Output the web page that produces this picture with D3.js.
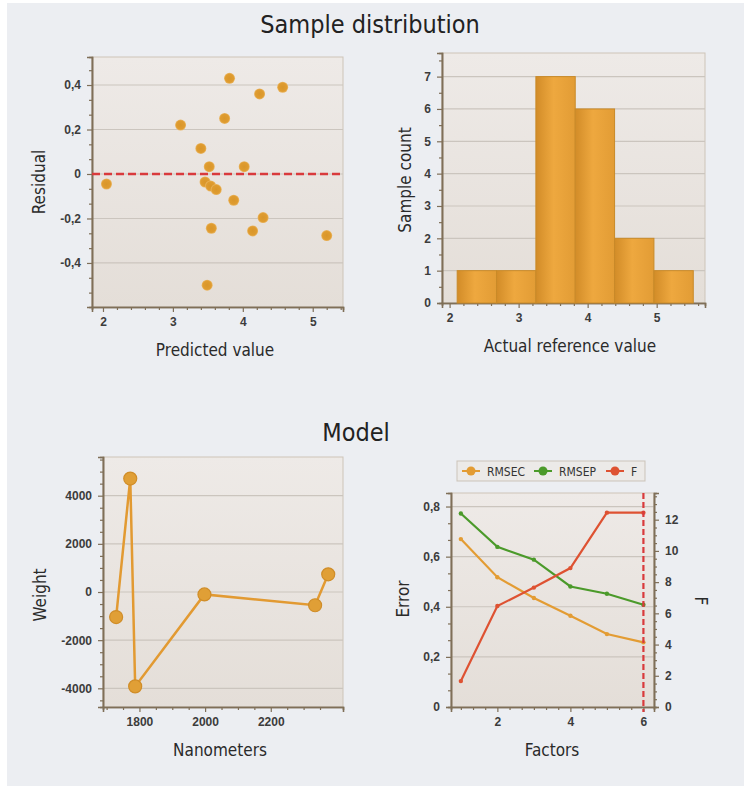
<!DOCTYPE html>
<html>
<head>
<meta charset="utf-8">
<script src="https://cdn.jsdelivr.net/npm/d3@7"></script>
<style>
  body { margin: 0; background: #fff; }
  svg { display: block; font-family: "DejaVu Sans Condensed", "DejaVu Sans", sans-serif; }
  .tick text { font-size: 12px; font-weight: bold; fill: #3c3c3c; }
  .axis-label { font-size: 17px; fill: #2a2a2a; }
  .title { font-size: 25px; fill: #222; }
</style>
</head>
<body>
<div id="chart"></div>
<script>

// Residual plot
let predicted = [2.05, 3.11, 3.40, 3.52, 3.46, 3.54, 3.62, 3.55, 3.49, 3.74, 3.81, 3.87, 4.02, 4.14, 4.24, 4.29, 4.57, 5.20];
let residual = [-0.045, 0.22, 0.115, 0.033, -0.036, -0.054, -0.07, -0.244, -0.50, 0.25, 0.43, -0.118, 0.033, -0.256, 0.36, -0.196, 0.39, -0.277];

// Histogram of reference values
let binEdges = [2.11, 2.68, 3.25, 3.82, 4.39, 4.96, 5.53];
let binCounts = [1, 1, 7, 6, 2, 1];

// Regression weights
let nanometers = [1729, 1772, 1787, 1998, 2335, 2375];
let weights = [-1040, 4710, -3920, -100, -550, 735];

// Error vs factors
let factors = [1, 2, 3, 4, 5, 6];
let rmsec = [0.67, 0.518, 0.435, 0.364, 0.291, 0.258];
let rmsep = [0.772, 0.639, 0.588, 0.481, 0.452, 0.408];
let fValues = [1.66, 6.47, 7.65, 8.9, 12.45, 12.45];
let selectedFactor = 6;
let legendNames = ["RMSEC", "RMSEP", "F"];

let orange = "#e39c33", green = "#4b9a2a", red = "#de5232";

let svg = d3.select("#chart").append("svg")
    .attr("width", 744)
    .attr("height", 786);

// scanned page background
svg.append("rect").attr("x", 7).attr("y", 3).attr("width", 737).attr("height", 783).attr("fill", "#eceef2");

let defs = svg.append("defs");

let bg = defs.append("linearGradient").attr("id", "plotBg").attr("x1", 0).attr("y1", 0).attr("x2", 0).attr("y2", 1);
bg.append("stop").attr("offset", "0%").attr("stop-color", "#eeeae7");
bg.append("stop").attr("offset", "100%").attr("stop-color", "#e4ded8");

let barGrad = defs.append("linearGradient").attr("id", "barGrad").attr("x1", 0).attr("y1", 0).attr("x2", 1).attr("y2", 0);
barGrad.append("stop").attr("offset", "0%").attr("stop-color", "#d28c28");
barGrad.append("stop").attr("offset", "45%").attr("stop-color", "#eea83f");
barGrad.append("stop").attr("offset", "100%").attr("stop-color", "#e29c35");

let dotGrad = defs.append("radialGradient").attr("id", "dotGrad");
dotGrad.append("stop").attr("offset", "0%").attr("stop-color", "#d9962a");
dotGrad.append("stop").attr("offset", "75%").attr("stop-color", "#df9c30");
dotGrad.append("stop").attr("offset", "100%").attr("stop-color", "#eab765");

function fmt(d) {
    return d === 0 ? "0" : String(d).replace(".", ",");
}

function minorValues(domain, step, sub) {
    let out = [];
    let s = step / sub;
    for (let i = Math.ceil(domain[0] / s); i * s <= domain[1] + 1e-9; i++) {
        let v = +(i * s).toFixed(6);
        if (Math.abs(v / step - Math.round(v / step)) > 1e-6) out.push(v);
    }
    return out;
}

// build a plot frame with grid + axes
function makePanel(box, xDomain, yDomain, xTicks, yTicks, xMinor, yMinor) {
    let p = {};
    p.g = svg.append("g").attr("transform", `translate(${box.left},${box.top})`);
    p.w = box.right - box.left;
    p.h = box.bottom - box.top;
    p.x = d3.scaleLinear().domain(xDomain).range([0, p.w]);
    p.y = d3.scaleLinear().domain(yDomain).range([p.h, 0]);

    p.g.append("rect").attr("width", p.w).attr("height", p.h)
        .attr("fill", "url(#plotBg)").attr("stroke", "#cdc4b8");

    p.g.append("g").selectAll("line").data(yTicks.filter(d => d !== yDomain[0])).join("line")
        .attr("x1", 0).attr("x2", p.w)
        .attr("y1", d => p.y(d)).attr("y2", d => p.y(d))
        .attr("stroke", "#cbc5be").attr("stroke-width", 1.2);

    p.g.append("g").attr("class", "axis")
        .attr("transform", `translate(0,${p.h})`)
        .call(d3.axisBottom(p.x).tickValues(xMinor).tickSize(3).tickFormat(""));
    p.g.append("g").attr("class", "axis")
        .attr("transform", `translate(0,${p.h})`)
        .call(d3.axisBottom(p.x).tickValues(xTicks).tickSize(5).tickPadding(5).tickFormat(fmt));

    p.g.append("g").attr("class", "axis")
        .call(d3.axisLeft(p.y).tickValues(yMinor).tickSize(3).tickFormat(""));
    p.g.append("g").attr("class", "axis")
        .call(d3.axisLeft(p.y).tickValues(yTicks).tickSize(5).tickPadding(6).tickFormat(fmt));

    return p;
}

function styleAxes() {
    svg.selectAll(".axis path").attr("stroke", "#7f6f58").attr("stroke-width", 1.6);
    svg.selectAll(".axis line").attr("stroke", "#7f6f58").attr("stroke-width", 1.2);
}

function label(text, x, y, rotate) {
    let t = svg.append("text").attr("class", "axis-label").attr("text-anchor", "middle").text(text);
    if (rotate) t.attr("transform", `translate(${x},${y}) rotate(${rotate})`);
    else t.attr("x", x).attr("y", y);
    return t;
}

// titles
svg.append("text").attr("class", "title").attr("x", 370).attr("y", 33).attr("text-anchor", "middle").text("Sample distribution");
svg.append("text").attr("class", "title").attr("x", 356).attr("y", 441).attr("text-anchor", "middle").text("Model");

// ---- Residual vs predicted
let p1 = makePanel({left: 92, right: 343, top: 57, bottom: 307},
    [1.843, 5.433], [-0.598, 0.526],
    [2, 3, 4, 5], [-0.4, -0.2, 0, 0.2, 0.4],
    minorValues([1.843, 5.433], 1, 5), minorValues([-0.598, 0.526], 0.2, 3));

p1.g.append("line")
    .attr("x1", 0).attr("x2", p1.w)
    .attr("y1", p1.y(0)).attr("y2", p1.y(0))
    .attr("stroke", "#d93a3c").attr("stroke-width", 2.5).attr("stroke-dasharray", "8,4");

p1.g.selectAll(".dot").data(predicted).join("circle")
    .attr("class", "dot")
    .attr("cx", d => p1.x(d))
    .attr("cy", (d, i) => p1.y(residual[i]))
    .attr("r", 5.5)
    .attr("fill", "url(#dotGrad)");

label("Residual", 45, 182, -90);
label("Predicted value", 215, 356);

// ---- Histogram
let p2 = makePanel({left: 442, right: 705, top: 53, bottom: 303},
    [1.89, 5.70], [0, 7.73],
    [2, 3, 4, 5], [0, 1, 2, 3, 4, 5, 6, 7],
    minorValues([1.89, 5.70], 1, 5), minorValues([0, 7.73], 1, 2));

p2.g.selectAll(".bar").data(binCounts).join("rect")
    .attr("class", "bar")
    .attr("x", (d, i) => p2.x(binEdges[i]))
    .attr("width", (d, i) => p2.x(binEdges[i + 1]) - p2.x(binEdges[i]))
    .attr("y", d => p2.y(d))
    .attr("height", d => p2.h - p2.y(d))
    .attr("fill", "url(#barGrad)")
    .attr("stroke", "#c98a28").attr("stroke-width", 1);

label("Sample count", 411, 180, -90);
label("Actual reference value", 570, 352);

// ---- Weights
let p3 = makePanel({left: 103, right: 343, top: 457, bottom: 707},
    [1689, 2420], [-4776, 5607],
    [1800, 2000, 2200], [-4000, -2000, 0, 2000, 4000],
    minorValues([1689, 2420], 200, 4), minorValues([-4776, 5607], 2000, 4));

let weightLine = d3.line()
    .x(d => p3.x(d))
    .y((d, i) => p3.y(weights[i]));

p3.g.append("path")
    .attr("d", weightLine(nanometers))
    .attr("fill", "none").attr("stroke", "#e29a32").attr("stroke-width", 2.5);

p3.g.selectAll(".wdot").data(nanometers).join("circle")
    .attr("class", "wdot")
    .attr("cx", d => p3.x(d))
    .attr("cy", (d, i) => p3.y(weights[i]))
    .attr("r", 6.5)
    .attr("fill", "#e09f36").attr("stroke", "#d08d28").attr("stroke-width", 1.2);

label("Weight", 46, 595, -90);
label("Nanometers", 220, 756);

// ---- Error / F vs factors
let p4 = makePanel({left: 451, right: 654, top: 493, bottom: 707},
    [0.73, 6.29], [0, 0.854],
    [2, 4, 6], [0, 0.2, 0.4, 0.6, 0.8],
    minorValues([0.73, 6.29], 2, 6), minorValues([0, 0.854], 0.2, 3));

p4.yF = d3.scaleLinear().domain([0, 13.71]).range([p4.h, 0]);
p4.g.append("g").attr("class", "axis")
    .attr("transform", `translate(${p4.w},0)`)
    .call(d3.axisRight(p4.yF).tickValues(minorValues([0, 13.71], 2, 4)).tickSize(3).tickFormat(""));
p4.g.append("g").attr("class", "axis")
    .attr("transform", `translate(${p4.w},0)`)
    .call(d3.axisRight(p4.yF).tickValues([0, 2, 4, 6, 8, 10, 12]).tickSize(5).tickPadding(6).tickFormat(fmt));

let series = [
    {name: legendNames[0], values: rmsec, color: orange, y: p4.y},
    {name: legendNames[1], values: rmsep, color: green, y: p4.y},
    {name: legendNames[2], values: fValues, color: red, y: p4.yF}
];

series.forEach(s => {
    let line = d3.line().x(d => p4.x(d)).y((d, i) => s.y(s.values[i]));
    p4.g.append("path").attr("d", line(factors))
        .attr("fill", "none").attr("stroke", s.color).attr("stroke-width", 2.2);
    p4.g.selectAll(null).data(factors).join("circle")
        .attr("cx", d => p4.x(d)).attr("cy", (d, i) => s.y(s.values[i]))
        .attr("r", 2.2).attr("fill", s.color);
});

p4.g.append("line")
    .attr("x1", p4.x(selectedFactor)).attr("x2", p4.x(selectedFactor))
    .attr("y1", 0).attr("y2", p4.h + 5)
    .attr("stroke", "#d93a3c").attr("stroke-width", 2.2).attr("stroke-dasharray", "6,3");

// legend
let legend = svg.append("g").attr("transform", "translate(457,461)");
legend.append("rect").attr("width", 188).attr("height", 20)
    .attr("fill", "#eceae8").attr("stroke", "#cbc3b9");
let legendX = [5, 77, 149];
series.forEach((s, i) => {
    let item = legend.append("g").attr("transform", `translate(${legendX[i]},10)`);
    item.append("line").attr("x1", 0).attr("x2", 18).attr("stroke", s.color).attr("stroke-width", 2);
    item.append("circle").attr("cx", 9).attr("r", 4.5).attr("fill", s.color);
    item.append("text").attr("x", 25).attr("y", 4.5)
        .attr("font-size", 12).attr("fill", "#333").text(s.name);
});

label("Error", 409, 599, -90);
label("F", 695, 601, 90);
label("Factors", 552, 756);

styleAxes();

</script>
</body>
</html>
